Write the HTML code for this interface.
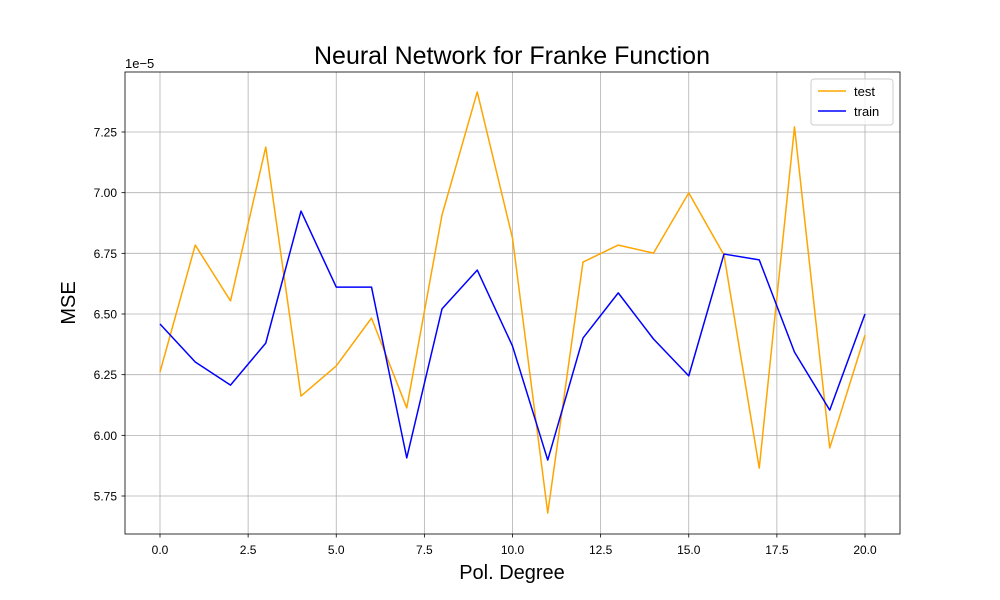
<!DOCTYPE html>
<html><head><meta charset="utf-8"><style>
body{margin:0;background:#fff;}
svg{display:block;font-family:"Liberation Sans","DejaVu Sans",sans-serif;}
</style></head><body>
<svg id="chart" width="1000" height="600" viewBox="0 0 1000 600"></svg>
<script>
const degrees = [0,1,2,3,4,5,6,7,8,9,10,11,12,13,14,15,16,17,18,19,20];
const testMSE = [6.261,6.784,6.554,7.188,6.162,6.286,6.483,6.113,6.908,7.415,6.813,5.680,6.714,6.784,6.751,6.999,6.743,5.865,7.271,5.948,6.413];
const trainMSE = [6.459,6.302,6.207,6.380,6.924,6.611,6.611,5.907,6.521,6.681,6.368,5.898,6.401,6.587,6.397,6.245,6.747,6.723,6.343,6.104,6.500];
const xTicks = [0,2.5,5,7.5,10,12.5,15,17.5,20];
const xTickLabels = ["0.0","2.5","5.0","7.5","10.0","12.5","15.0","17.5","20.0"];
const yTicks = [5.75,6.0,6.25,6.5,6.75,7.0,7.25];
const yTickLabels = ["5.75","6.00","6.25","6.50","6.75","7.00","7.25"];

const L=125,R=900,T=72,B=534;
const X=v=>160+v*35.25;
const Y=v=>132-(v-7.25)*242.67;
const svg=document.getElementById('chart');
const NS='http://www.w3.org/2000/svg';
function mk(tag,attrs,parent){const e=document.createElementNS(NS,tag);for(const k in attrs)e.setAttribute(k,attrs[k]);(parent||svg).appendChild(e);return e;}

xTicks.forEach((t,i)=>{
  const g=mk('line',{x1:X(t),x2:X(t),y1:T,y2:B,stroke:'#b0b0b0','stroke-width':0.8});
  
  
  mk('line',{x1:X(t),x2:X(t),y1:B,y2:B+3.5,stroke:'#000','stroke-width':0.8});
  const tx=mk('text',{x:X(t),y:B+20,'font-size':12,'text-anchor':'middle'});
  tx.textContent=xTickLabels[i];
  
  
});
yTicks.forEach((t,i)=>{
  const g=mk('line',{x1:L,x2:R,y1:Y(t),y2:Y(t),stroke:'#b0b0b0','stroke-width':0.8});
  
  
  mk('line',{x1:L-3.5,x2:L,y1:Y(t),y2:Y(t),stroke:'#000','stroke-width':0.8});
  const tx=mk('text',{x:L-8,y:Y(t)+4.5,'font-size':12,'text-anchor':'end'});
  tx.textContent=yTickLabels[i];
  
  
});

function series(vals,color,name){
  const p=mk('polyline',{points:degrees.map((d,i)=>X(d)+','+Y(vals[i])).join(' '),fill:'none',stroke:color,'stroke-width':1.5,'stroke-linejoin':'round'});
  
  
}
series(testMSE,'orange','test-line');
series(trainMSE,'blue','train-line');

const frame=mk('rect',{x:L,y:T,width:R-L,height:B-T,fill:'none',stroke:'#000','stroke-width':0.8});


</script>
<svg style="position:absolute;left:0;top:0" width="1000" height="600">
  <text x="512" y="64" font-size="25" text-anchor="middle" font-family="Liberation Sans, DejaVu Sans, sans-serif">Neural Network for Franke Function</text>
  <text x="512" y="579" font-size="20" text-anchor="middle" font-family="Liberation Sans, DejaVu Sans, sans-serif">Pol. Degree</text>
  <text x="75" y="303" font-size="20" text-anchor="middle" transform="rotate(-90 75 303)" font-family="Liberation Sans, DejaVu Sans, sans-serif">MSE</text>
  <text x="125" y="68" font-size="13" font-family="Liberation Sans, DejaVu Sans, sans-serif">1e−5</text>
  <g>
    <rect x="811" y="79" width="82" height="46" rx="3" fill="#fff" fill-opacity="0.8" stroke="#ccc"/>
    <line x1="818" x2="846" y1="91" y2="91" stroke="orange" stroke-width="1.5"/>
    <text x="854" y="96" font-size="13" font-family="Liberation Sans, DejaVu Sans, sans-serif">test</text>
    <line x1="818" x2="846" y1="111" y2="111" stroke="blue" stroke-width="1.5"/>
    <text x="854" y="116" font-size="13" font-family="Liberation Sans, DejaVu Sans, sans-serif">train</text>
  </g>
</svg>
</body></html>
